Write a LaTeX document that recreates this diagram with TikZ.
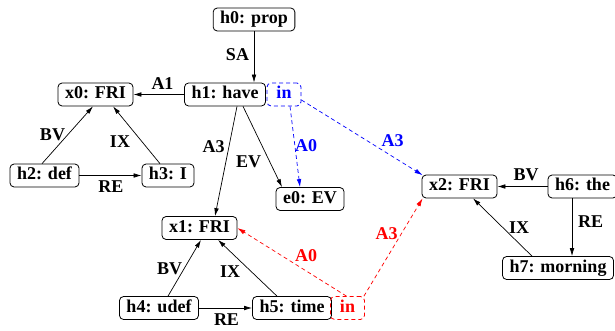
\documentclass[tikz,border=0pt]{standalone}
\usepackage{fontspec}
\setmainfont{Liberation Serif}
\usetikzlibrary{arrows.meta}
\begin{document}
\begin{tikzpicture}[x=1pt,y=-1pt,
  txt/.style={font=\fontsize{18}{20}\selectfont\bfseries},
  box/.style={txt, draw, rounded corners=4pt, line width=0.8pt,
    inner xsep=7pt, inner ysep=3.3pt, text height=12.3pt, text depth=4pt},
  inbox/.style={box, dash pattern=on 4pt off 3pt, minimum width=34pt},
  lab/.style={txt, inner sep=0pt},
  arr/.style={-{Latex[length=8pt,width=4.6pt]}, line width=0.7pt},
  dsh/.style={arr, dash pattern=on 4pt off 3pt}
]
\useasboundingbox (0,0) rectangle (615,331);

% predicate and variable nodes
\node[box] (h0) at (254,19.5) {h0: prop};
\node[box] (h1) at (225,94.5) {h1: have};
\node[inbox, blue] (inb) at (284,94.5) {in};
\node[box] (x0) at (95.5,94.5) {x0: FRI};
\node[box] (h2) at (44.5,175.5) {h2: def};
\node[box] (h3) at (168,175.5) {h3: I};
\node[box] (e0) at (310,199) {e0: EV};
\node[box] (x1) at (199.5,228) {x1: FRI};
\node[box] (h4) at (159,308) {h4: udef};
\node[box] (h5) at (292,308) {h5: time};
\node[inbox, red] (inr) at (347.5,308) {in};
\node[box] (x2) at (459.5,186.5) {x2: FRI};
\node[box] (h6) at (582.5,186.5) {h6: the};
\node[box] (h7) at (558,268) {h7: morning};

% black argument edges
\draw[arr] (h0.south) -- (h0.south |- h1.north);
\draw[arr] (h1.west) -- (x0.east);
\draw[arr] ([xshift=-2.5pt]h2.north) -- ([xshift=-2.5pt]x0.south);
\draw[arr] ([xshift=-8pt]h3.north) -- ([xshift=17.5pt]x0.south);
\draw[arr] (h2.east) -- (h3.west);
\draw[arr] ([xshift=12pt]h1.south) -- ([xshift=15.5pt]x1.north);
\draw[arr] ([xshift=18pt]h1.south) -- ([xshift=-28pt]e0.north);
\draw[arr] ([xshift=9pt]h4.north) -- ([xshift=1.5pt]x1.south);
\draw[arr] ([xshift=-15pt]h5.north) -- ([xshift=18.5pt]x1.south);
\draw[arr] (h4.east) -- (h5.west);
\draw[arr] (h6.west) -- (x2.east);
\draw[arr] ([xshift=-10.5pt]h6.south) -- ([xshift=-10.5pt]h6.south |- h7.north);
\draw[arr] ([xshift=-26pt]h7.north) -- ([xshift=13.5pt]x2.south);

% dashed "in" edges
\draw[dsh, blue] ([xshift=6pt]inb.south) -- ([xshift=-10pt]e0.north);
\draw[dsh, blue] ([yshift=-5.5pt]inb.east) -- ([xshift=1pt,yshift=-0.5pt]x2.north west);
\draw[dsh, red] ([xshift=-1pt]inr.north) -- (x1.east);
\draw[dsh, red] ([xshift=-1pt]inr.north east) -- ([xshift=1pt]x2.south west);

% edge labels
\node[lab] (lSA) at (237.5,55) {SA};
\node[lab] (lA1) at (162.5,83.5) {A1};
\node[lab] (lBV0) at (52.5,135) {BV};
\node[lab] (lIX0) at (120,141.5) {IX};
\node[lab] (lRE0) at (111,186.5) {RE};
\node[lab] (lA3a) at (213.5,146.5) {A3};
\node[lab] (lEV) at (248.5,162) {EV};
\node[lab, blue] (lA0b) at (306,146) {A0};
\node[lab, blue] (lA3b) at (392.5,140.5) {A3};
\node[lab] (lBV1) at (169.5,268.5) {BV};
\node[lab] (lIX1) at (230,272) {IX};
\node[lab] (lRE1) at (226.5,319.5) {RE};
\node[lab, red] (lA0r) at (306,256) {A0};
\node[lab, red] (lA3r) at (386.5,234) {A3};
\node[lab] (lBV2) at (526,175) {BV};
\node[lab] (lRE2) at (590.5,221.5) {RE};
\node[lab] (lIX2) at (519,228) {IX};
\end{tikzpicture}
\end{document}
